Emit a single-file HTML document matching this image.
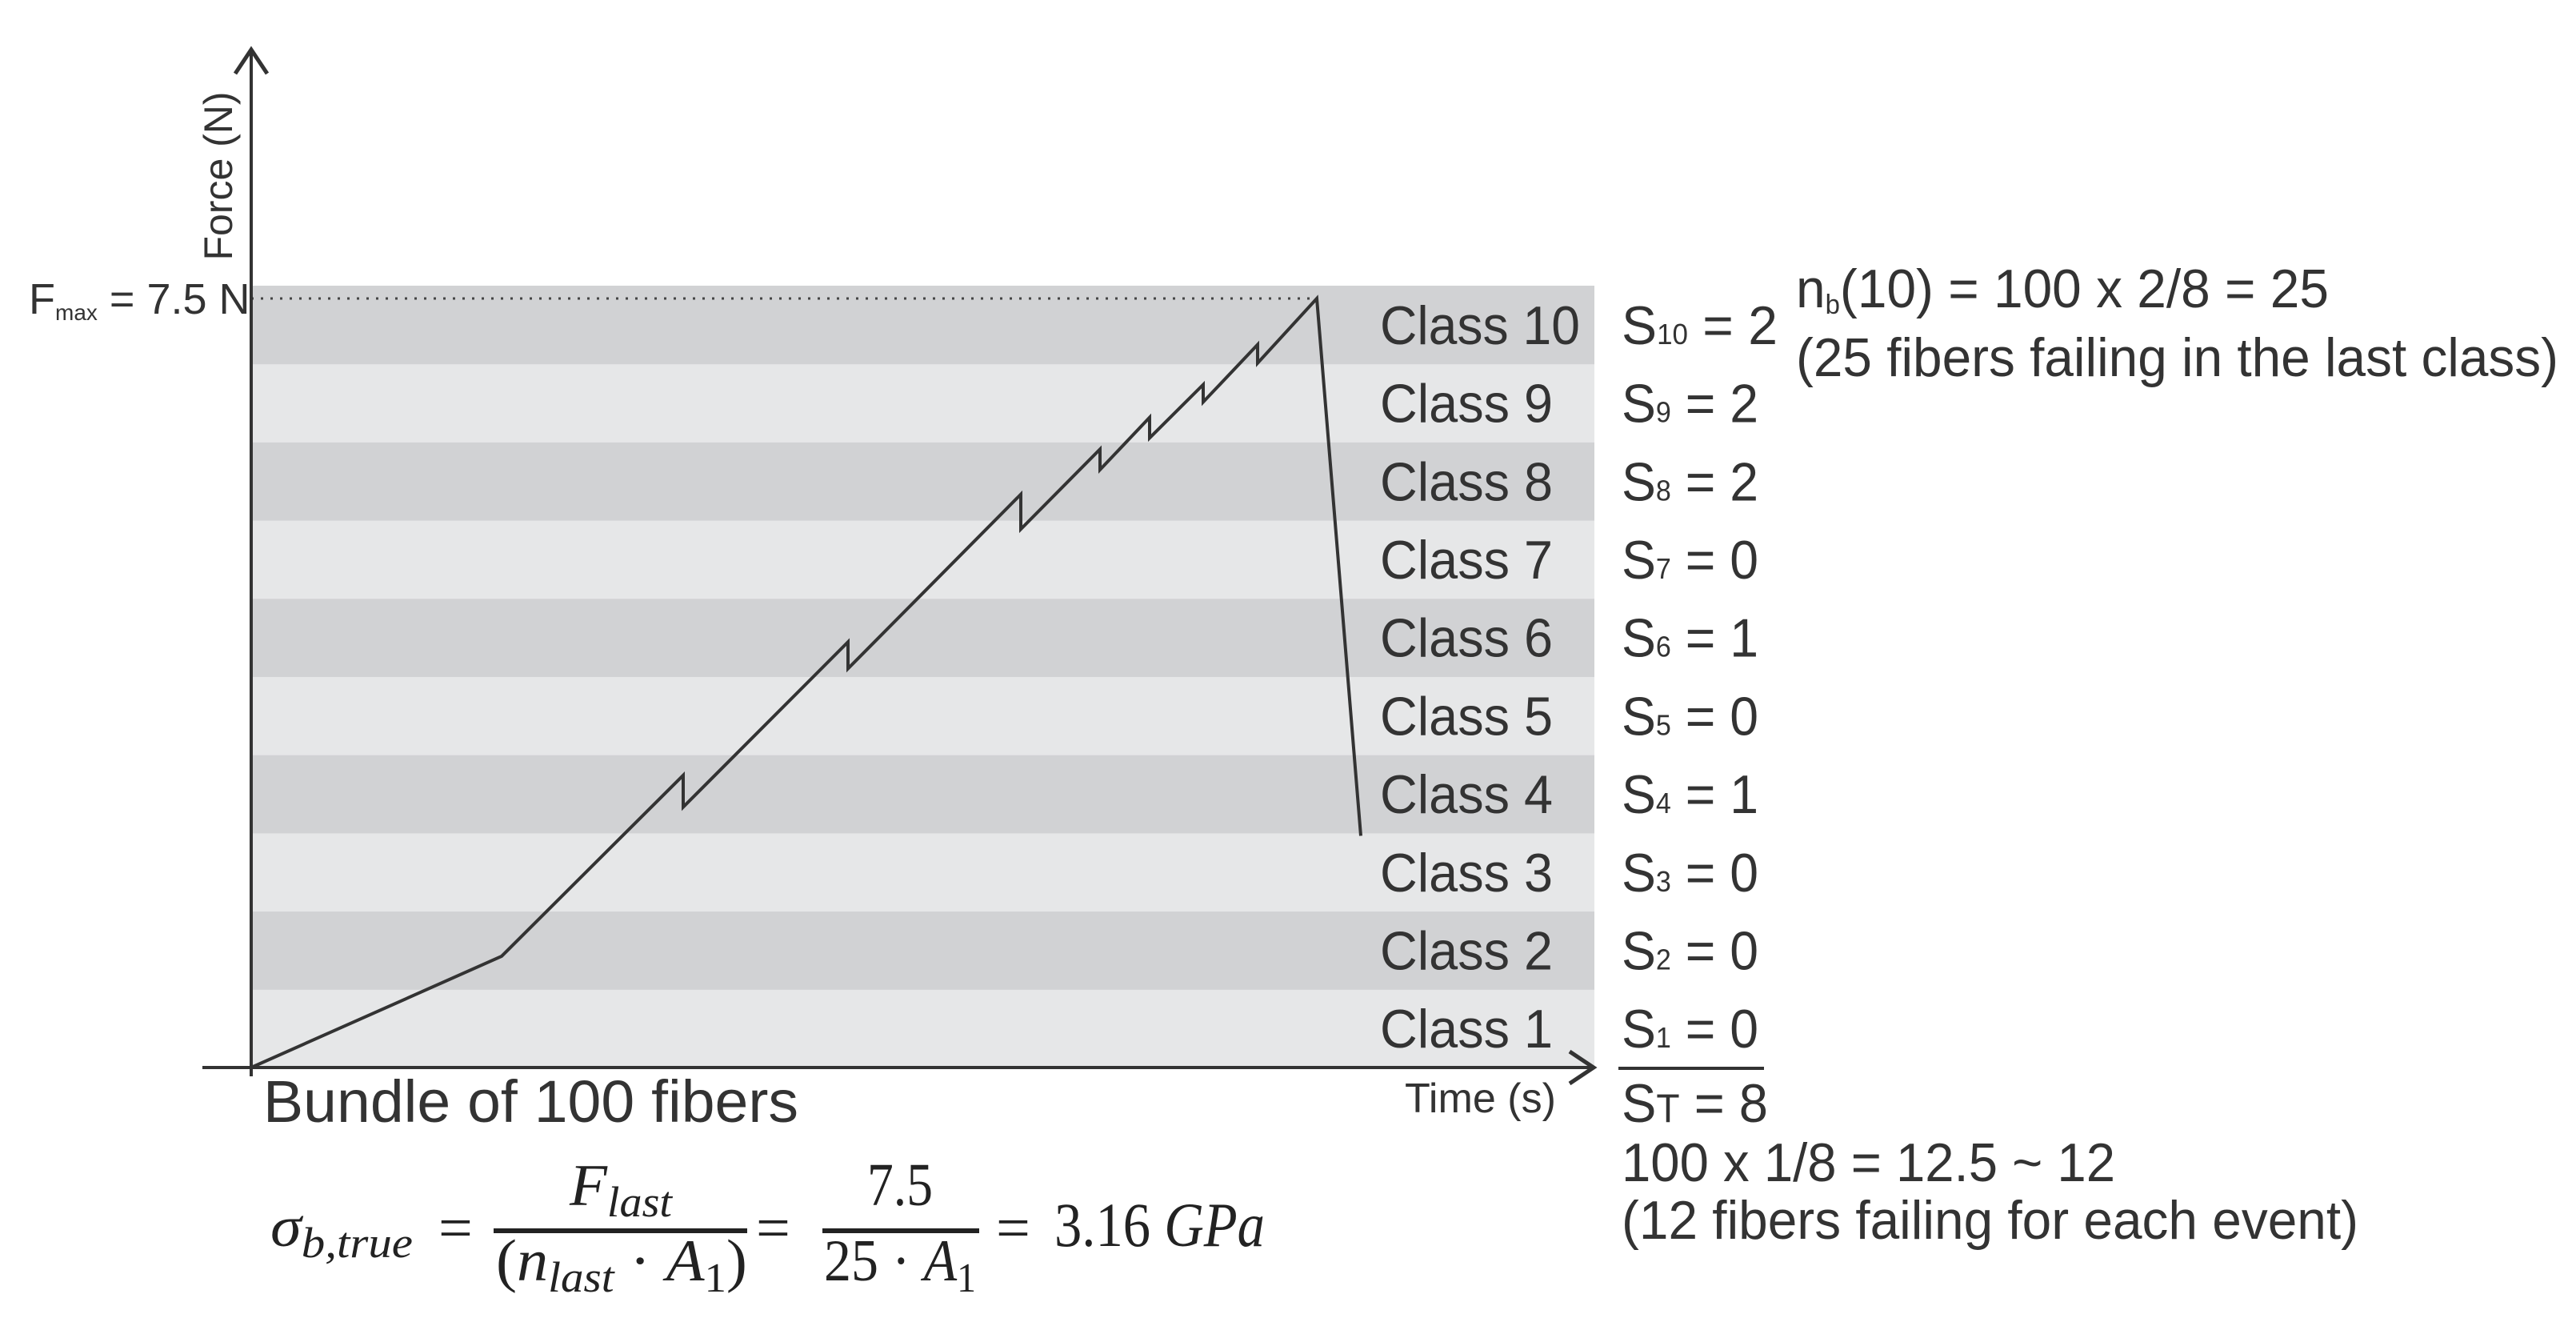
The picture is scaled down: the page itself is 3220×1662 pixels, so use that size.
<!DOCTYPE html>
<html><head><meta charset="utf-8"><style>
html,body{margin:0;padding:0;background:#fff;}
svg{display:block;}
.t{font-family:"Liberation Sans",sans-serif;fill:#333;}
.m{font-family:"Liberation Serif",serif;fill:#222;font-style:italic;}
.mn{font-family:"Liberation Serif",serif;fill:#222;}
</style></head><body>
<svg id="chart" width="3220" height="1662" viewBox="0 0 3220 1662" xmlns="http://www.w3.org/2000/svg">
<g id="bands"></g>
<line x1="314" y1="373" x2="1646" y2="373" stroke="#444" stroke-width="3" stroke-dasharray="3,9"/>
<g id="labels"></g>
<polyline id="curve" fill="none" stroke="#333" stroke-width="4" stroke-linejoin="miter"/>
<line x1="314" y1="1345" x2="314" y2="66" stroke="#333" stroke-width="4"/>
<polyline points="294,92 314,62 334,92" fill="none" stroke="#333" stroke-width="5"/>
<line x1="253" y1="1334" x2="1990" y2="1334" stroke="#333" stroke-width="4"/>
<polyline points="1962,1314 1992,1334 1962,1354" fill="none" stroke="#333" stroke-width="5"/>
<text class="t" x="0" y="0" font-size="50" text-anchor="middle" transform="translate(290,220) rotate(-90)">Force (N)</text>
<text class="t" x="1756" y="1390" font-size="52" textLength="189" lengthAdjust="spacingAndGlyphs">Time (s)</text>
<text class="t" x="36" y="392" font-size="54">F<tspan font-size="28" dy="8">max</tspan><tspan dy="-8"> = 7.5 N</tspan></text>
<text class="t" x="329" y="1402" font-size="74" textLength="669" lengthAdjust="spacingAndGlyphs">Bundle of 100 fibers</text>
<text class="t" x="2245" y="384" font-size="68" textLength="666" lengthAdjust="spacingAndGlyphs">n<tspan font-size="34" dy="8">b</tspan><tspan dy="-8">(10) = 100 x 2/8 = 25</tspan></text>
<text class="t" x="2245" y="470" font-size="68" textLength="953" lengthAdjust="spacingAndGlyphs">(25 fibers failing in the last class)</text>
<line x1="2023" y1="1335" x2="2205" y2="1335" stroke="#333" stroke-width="4"/>
<text class="t" x="2027" y="1402" font-size="68" textLength="183" lengthAdjust="spacingAndGlyphs">S<tspan font-size="50">T</tspan> = 8</text>
<text class="t" x="2027" y="1476" font-size="68" textLength="617" lengthAdjust="spacingAndGlyphs">100 x 1/8 = 12.5 ~ 12</text>
<text class="t" x="2027" y="1548" font-size="68" textLength="921" lengthAdjust="spacingAndGlyphs">(12 fibers failing for each event)</text>
<g>
<text class="m" x="338" y="1557" font-size="72" textLength="178" lengthAdjust="spacingAndGlyphs">σ<tspan font-size="54" dy="14">b,true</tspan></text>
<text class="mn" x="548" y="1560" font-size="76">=</text>
<text class="m" x="712" y="1506" font-size="74" textLength="128" lengthAdjust="spacingAndGlyphs">F<tspan font-size="54" dy="14">last</tspan></text>
<line x1="617" y1="1538" x2="934" y2="1538" stroke="#222" stroke-width="6"/>
<text class="mn" x="620" y="1600" font-size="74" textLength="314" lengthAdjust="spacingAndGlyphs">(<tspan font-style="italic">n</tspan><tspan font-style="italic" font-size="54" dy="14">last</tspan><tspan dy="-14"> · </tspan><tspan font-style="italic">A</tspan><tspan font-size="52" dy="14">1</tspan><tspan dy="-14">)</tspan></text>
<text class="mn" x="945" y="1560" font-size="76">=</text>
<text class="mn" x="1084" y="1506" font-size="76" textLength="82" lengthAdjust="spacingAndGlyphs">7.5</text>
<line x1="1028" y1="1538" x2="1224" y2="1538" stroke="#222" stroke-width="6"/>
<text class="mn" x="1030" y="1600" font-size="74" textLength="190" lengthAdjust="spacingAndGlyphs">25 · <tspan font-style="italic">A</tspan><tspan font-size="52" dy="14">1</tspan></text>
<text class="mn" x="1245" y="1560" font-size="76">=</text>
<text class="mn" x="1318" y="1557" font-size="78" textLength="263" lengthAdjust="spacingAndGlyphs">3.16 <tspan font-style="italic">GPa</tspan></text>
</g>
<script>
const classNames = ["Class 1","Class 2","Class 3","Class 4","Class 5","Class 6","Class 7","Class 8","Class 9","Class 10"];
const sValues = [0,0,0,1,0,1,0,2,2,2];
const times = [0,3.13,5.40,5.40,7.46,7.46,9.62,9.62,10.61,10.61,11.23,11.23,11.90,11.90,12.58,12.58,13.32,13.87];
const forces = [0,1.085,2.85,2.54,4.15,3.89,5.59,5.25,6.03,5.83,6.34,6.14,6.66,6.49,7.05,6.87,7.5,2.26];
const fMax = 7.5;
const NS="http://www.w3.org/2000/svg";
const X0=314, Y0=1334, YTOP=373, BANDTOP=357, BANDR=1993;
function xs(t){return X0 + t*100;}
function ys(f){return Y0 - f/fMax*(Y0-YTOP);}
const bandH=(Y0-BANDTOP)/classNames.length;
function band(i){return Y0 - (i+1)*bandH;}
const bg=document.getElementById('bands'), lg=document.getElementById('labels');
classNames.forEach((c,i)=>{
  const r=document.createElementNS(NS,'rect');
  r.setAttribute('x',X0);r.setAttribute('y',band(i));r.setAttribute('width',BANDR-X0);r.setAttribute('height',bandH+0.5);
  r.setAttribute('fill', (i%2===1)?'#d1d2d4':'#e6e7e8');
  
  
  bg.appendChild(r);
  const cy=band(i)+bandH/2+24;
  const t=document.createElementNS(NS,'text');
  t.setAttribute('class','t');t.setAttribute('x',1725);t.setAttribute('y',cy);t.setAttribute('font-size',68);
  t.setAttribute('textLength', (i+1)>=10 ? 250 : 216);
  t.setAttribute('lengthAdjust','spacingAndGlyphs');
  t.textContent=c;
  
  
  lg.appendChild(t);
  const s=document.createElementNS(NS,'text');
  s.setAttribute('class','t');s.setAttribute('x',2027);s.setAttribute('y',cy);s.setAttribute('font-size',68);
  s.setAttribute('textLength', (i+1)>=10 ? 195 : 171);
  s.setAttribute('lengthAdjust','spacingAndGlyphs');
  s.appendChild(document.createTextNode('S'));
  const sub=document.createElementNS(NS,'tspan');
  sub.setAttribute('font-size',36);
  sub.textContent=String(i+1);
  s.appendChild(sub);
  s.appendChild(document.createTextNode(' = '+sValues[i]));
  
  
  lg.appendChild(s);
});
document.getElementById('curve').setAttribute('points', times.map((t,i)=>xs(t)+','+ys(forces[i])).join(' '));
</script>
</svg>
</body></html>
